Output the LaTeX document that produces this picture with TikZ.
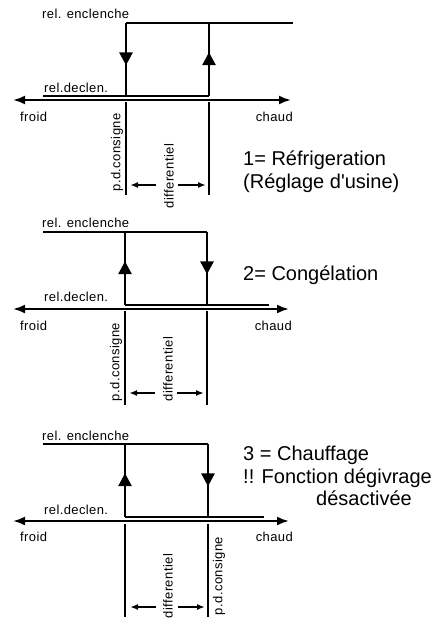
\documentclass[tikz,border=0pt]{standalone}
\usepackage{fontspec}
\setmainfont{Liberation Sans}
\usetikzlibrary{arrows.meta,decorations.markings}
\tikzset{
  hyst/.style={line width=2.8pt, line cap=butt, line join=miter},
  axis/.style={line width=2.2pt, {Latex[length=12pt,width=9pt]}-{Latex[length=12pt,width=9pt]}},
  guide/.style={line width=1.5pt},
  diffarr/.style={line width=1.8pt, -{Latex[length=8pt,width=6pt]}},
  small/.style={font=\fontsize{13}{15}\selectfont\addfontfeature{LetterSpace=3}, inner sep=0pt},
  big/.style={font=\fontsize{20}{23}\selectfont, inner sep=0pt, anchor=west},
  downmark/.style={postaction={decorate}, decoration={markings, mark=at position #1 with {\arrow{Triangle[length=13pt,width=13pt]}}}},
}
\begin{document}
\begin{tikzpicture}[x=1pt,y=-1pt]
\useasboundingbox (0,0) rectangle (443,637);
% ---------------- Panel 1 ----------------
\coordinate (a1tl) at (43,96);
\coordinate (a1l) at (126,96);
\coordinate (a1r) at (209,96);
\coordinate (a1lt) at (126,23);
\coordinate (a1rt) at (209,23);
\coordinate (a1e) at (293,23);
\coordinate (x1l) at (13,100);
\coordinate (x1r) at (291,100);
\draw[hyst] (a1tl) -- (a1r);
\draw[hyst] (a1lt) -- (a1e);
\draw[hyst, downmark=0.58] (a1lt) -- (a1l);
\draw[hyst, downmark=0.6] (a1r) -- (a1rt);
\draw[axis] (x1l) -- (x1r);
\coordinate (g1la) at (126,102); \coordinate (g1lb) at (126,195);
\coordinate (g1ra) at (209,102); \coordinate (g1rb) at (209,195);
\draw[guide] (g1la) -- (g1lb);
\draw[guide] (g1ra) -- (g1rb);
\coordinate (d1a) at (156,185); \coordinate (d1at) at (130,185);
\coordinate (d1b) at (178,185); \coordinate (d1bt) at (206,185);
\draw[diffarr] (d1a) -- (d1at);
\draw[diffarr] (d1b) -- (d1bt);
\node[small, anchor=west] (en1) at (42,14) {rel. enclenche};
\node[small, anchor=west] (de1) at (44,88) {rel.declen.};
\node[small, anchor=west] (fr1) at (20,117) {froid};
\node[small, anchor=east] (ch1) at (293,117) {chaud};
\node[small, rotate=90] (pd1) at (117,152.5) {p.d.consigne};
\node[small, rotate=90] (di1) at (169,176) {differentiel};
\node[big] (t1a) at (243,160) {1=\ Réfrigeration};
\node[big] (t1b) at (243,183) {(Réglage d\textquotesingle usine)};
% ---------------- Panel 2 ----------------
\coordinate (a2tl) at (43,232);
\coordinate (a2l) at (125,305);
\coordinate (a2r) at (207,305);
\coordinate (a2lt) at (125,232);
\coordinate (a2rt) at (207,232);
\coordinate (a2e) at (269,305);
\coordinate (x2l) at (13,309);
\coordinate (x2r) at (289,309);
\draw[hyst] (a2tl) -- (a2rt);
\draw[hyst] (a2l) -- (a2e);
\draw[hyst, downmark=0.6] (a2l) -- (a2lt);
\draw[hyst, downmark=0.58] (a2rt) -- (a2r);
\draw[axis] (x2l) -- (x2r);
\coordinate (g2la) at (125,311); \coordinate (g2lb) at (125,405);
\coordinate (g2ra) at (207,311); \coordinate (g2rb) at (207,405);
\draw[guide] (g2la) -- (g2lb);
\draw[guide] (g2ra) -- (g2rb);
\coordinate (d2a) at (155,393); \coordinate (d2at) at (129,393);
\coordinate (d2b) at (177,393); \coordinate (d2bt) at (204,393);
\draw[diffarr] (d2a) -- (d2at);
\draw[diffarr] (d2b) -- (d2bt);
\node[small, anchor=west] (en2) at (42,223) {rel. enclenche};
\node[small, anchor=west] (de2) at (44,297) {rel.declen.};
\node[small, anchor=west] (fr2) at (20,326) {froid};
\node[small, anchor=east] (ch2) at (292,326) {chaud};
\node[small, rotate=90] (pd2) at (116,362) {p.d.consigne};
\node[small, rotate=90] (di2) at (168,369) {differentiel};
\node[big] (t2a) at (243,275) {2=\ Congélation};
% ---------------- Panel 3 ----------------
\coordinate (a3tl) at (43,444);
\coordinate (a3l) at (125,517);
\coordinate (a3r) at (208,517);
\coordinate (a3lt) at (125,444);
\coordinate (a3rt) at (208,444);
\coordinate (a3e) at (264,517);
\coordinate (x3l) at (13,521);
\coordinate (x3r) at (289,521);
\draw[hyst] (a3tl) -- (a3rt);
\draw[hyst] (a3l) -- (a3e);
\draw[hyst, downmark=0.6] (a3l) -- (a3lt);
\draw[hyst, downmark=0.58] (a3rt) -- (a3r);
\draw[axis] (x3l) -- (x3r);
\coordinate (g3la) at (125,524); \coordinate (g3lb) at (125,617);
\coordinate (g3ra) at (208,524); \coordinate (g3rb) at (208,617);
\draw[guide] (g3la) -- (g3lb);
\draw[guide] (g3ra) -- (g3rb);
\coordinate (d3a) at (156,607); \coordinate (d3at) at (130,607);
\coordinate (d3b) at (178,607); \coordinate (d3bt) at (205,607);
\draw[diffarr] (d3a) -- (d3at);
\draw[diffarr] (d3b) -- (d3bt);
\node[small, anchor=west] (en3) at (42,436) {rel. enclenche};
\node[small, anchor=west] (de3) at (44,510) {rel.declen.};
\node[small, anchor=west] (fr3) at (20,537) {froid};
\node[small, anchor=east] (ch3) at (293,537) {chaud};
\node[small, rotate=90] (di3) at (168,586) {differentiel};
\node[small, rotate=90] (pd3) at (219,576) {p.d.consigne};
\node[big] (t3a) at (243,455) {3 = Chauffage};
\node[big] (t3b) at (243,478) {!! Fonction dégivrage};
\node[big] (t3c) at (316,498) {désactivée};
\end{tikzpicture}
\end{document}
